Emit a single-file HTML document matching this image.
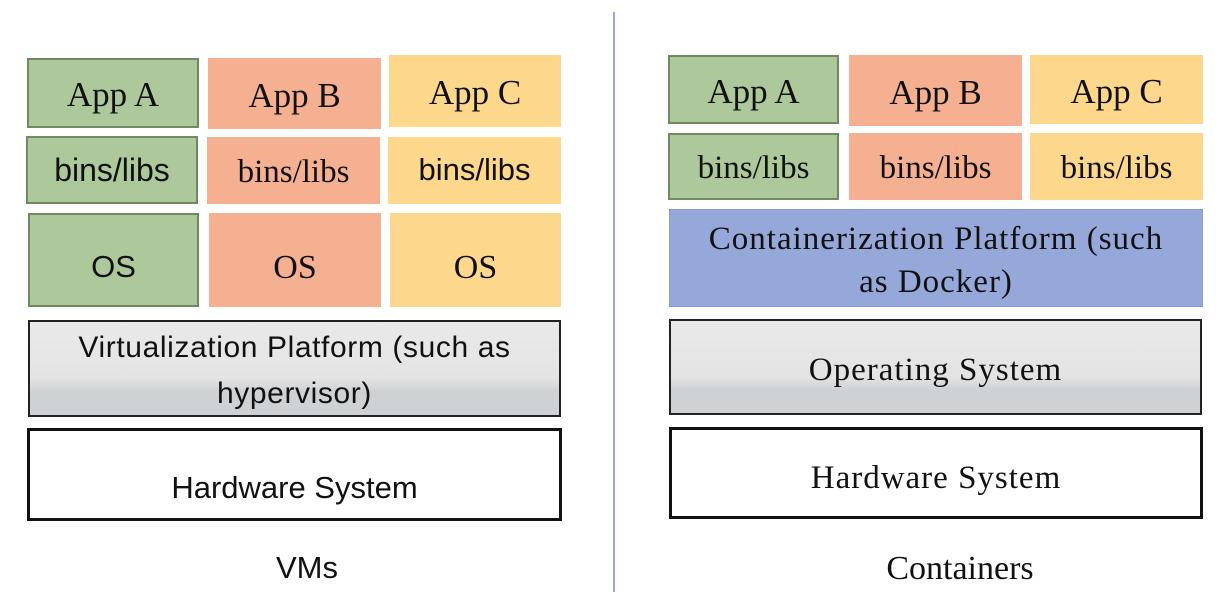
<!DOCTYPE html>
<html><head><meta charset="utf-8"><style>
body{margin:0;width:1224px;height:611px;background:#fff;position:relative;overflow:hidden}
.b{position:absolute;box-sizing:border-box;display:flex;align-items:center;justify-content:center;text-align:center;color:#111;line-height:1.45;white-space:nowrap}
.s{font-family:"Liberation Serif",serif;font-size:35px;padding-top:5px}
.n{font-family:"Liberation Sans",sans-serif;font-size:32px}
.g{background:#adc99b;border:2px solid #6f8a62}
.p{background:#f4b090}
.y{background:#fdd88c}
.gr{background:linear-gradient(#e9e9e9 0%,#e4e4e4 60%,#cfd2d4 75%,#cfd2d4 100%);border:2px solid #222}
.hw{background:#fff;border:3px solid #111}
.bl{background:#96a8d9;border:1px dotted #7f8fc6}
</style></head><body>
<div style="position:absolute;left:613px;top:12px;width:2px;height:580px;background:#9aa8dc"></div>

<div class="b g s" style="left:27px;top:58px;width:172px;height:70px">App A</div>
<div class="b p s" style="left:208px;top:58px;width:173px;height:71px">App B</div>
<div class="b y s" style="left:389px;top:55px;width:172px;height:72px">App C</div>
<div class="b g n" style="left:26px;top:136px;width:172px;height:68px;font-size:32px">bins/libs</div>
<div class="b p s" style="left:207px;top:137px;width:173px;height:67px;font-size:33px">bins/libs</div>
<div class="b y n" style="left:388px;top:137px;width:173px;height:67px;font-size:31px">bins/libs</div>
<div class="b g n" style="left:28px;top:213px;width:171px;height:94px;font-size:31px;padding-top:14px">OS</div>
<div class="b p s" style="left:209px;top:213px;width:172px;height:94px;font-size:34px;padding-top:16px">OS</div>
<div class="b y s" style="left:390px;top:213px;width:171px;height:94px;font-size:34px;padding-top:16px">OS</div>
<div class="b gr n" style="left:28px;top:320px;width:533px;height:97px;font-size:30px;letter-spacing:0.6px;line-height:46px;padding-top:4px">Virtualization Platform (such as<br>hypervisor)</div>
<div class="b hw n" style="left:27px;top:428px;width:535px;height:93px;padding-top:28px;font-size:31px">Hardware System</div>
<div class="b n" style="left:207px;top:548px;width:200px;height:40px;font-size:31px">VMs</div>

<div class="b g s" style="left:668px;top:55px;width:171px;height:69px">App A</div>
<div class="b p s" style="left:849px;top:55px;width:173px;height:71px">App B</div>
<div class="b y s" style="left:1030px;top:55px;width:173px;height:69px">App C</div>
<div class="b g s" style="left:668px;top:133px;width:171px;height:67px;font-size:33px">bins/libs</div>
<div class="b p s" style="left:849px;top:133px;width:173px;height:67px;font-size:33px">bins/libs</div>
<div class="b y s" style="left:1030px;top:133px;width:173px;height:67px;font-size:33px">bins/libs</div>
<div class="b bl s" style="left:669px;top:209px;width:534px;height:98px;font-size:33px;letter-spacing:1px;line-height:43px">Containerization Platform (such<br>as Docker)</div>
<div class="b gr s" style="left:669px;top:319px;width:533px;height:96px;font-size:33px;letter-spacing:1px;padding-top:8px">Operating System</div>
<div class="b hw s" style="left:669px;top:427px;width:534px;height:92px;font-size:33px;letter-spacing:1px;padding-top:12px">Hardware System</div>
<div class="b s" style="left:860px;top:546px;width:200px;height:40px;font-size:34px">Containers</div>
</body></html>
